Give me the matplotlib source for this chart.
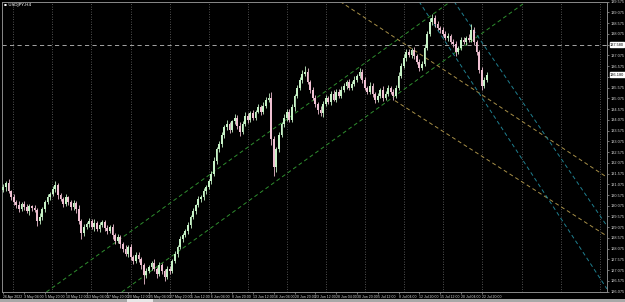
import matplotlib
matplotlib.use("Agg")
import matplotlib.pyplot as plt
from matplotlib.patches import Rectangle
import matplotlib.transforms as mtransforms
import numpy as np

# ---------------- data (USDJPY, H4 chart) ----------------
first_open = 130.80
closes = [
    130.94, 131.12, 130.75, 130.47, 130.24,
    130.10, 129.91, 130.15, 130.01, 129.82, 130.05, 129.96, 129.87,
    129.36, 129.54,
    129.91, 130.24, 130.47, 130.61, 130.84, 131.03,
    130.56, 130.38, 130.15, 130.47, 130.24, 130.01, 130.19, 129.91,
    129.36, 128.80, 129.08,
    129.22, 129.36, 129.08, 129.27, 128.99, 129.17, 129.31, 129.03, 128.89, 129.08,
    128.71, 128.43, 128.62, 128.29,
    128.06, 127.83, 128.15, 127.69, 127.50, 127.78, 127.60, 127.32,
    126.85, 127.04,
    127.22, 127.41, 127.13, 126.90, 127.32, 127.04, 126.76, 127.13,
    127.04, 127.50, 127.83, 128.15, 128.52, 128.71, 128.89,
    129.17, 129.54, 129.82, 130.10, 130.38, 130.47, 130.75, 130.94, 131.21, 131.54,
    132.14, 132.70, 132.93, 133.39, 133.72,
    133.86, 133.62, 134.00, 134.18, 133.81, 133.53, 133.90, 134.27, 134.09, 134.37,
    134.18, 134.46, 134.65, 134.46, 134.74,
    135.02, 135.11,
    133.16, 131.86,
    132.70, 133.39, 133.86,
    134.18, 134.46, 134.09, 134.65, 135.20,
    135.57, 135.94, 136.22, 136.32,
    135.85, 135.48, 135.11, 134.83, 134.55, 134.37,
    134.83, 135.11, 134.92, 135.29, 135.02, 135.39, 135.20, 135.48,
    135.67, 135.85, 135.57, 135.76, 135.94, 136.13, 136.32,
    135.94, 135.57, 135.39, 135.67, 135.29, 135.02, 135.20, 135.48, 135.11, 135.29,
    135.57, 135.39, 135.20,
    135.57, 136.13, 136.59, 136.96, 137.24,
    137.10, 137.34, 137.06, 136.78,
    136.50, 136.69,
    137.43, 138.08, 138.63, 138.82,
    138.54, 138.36, 138.26, 138.08, 137.89, 137.98, 137.71, 137.61,
    137.24, 137.43,
    137.80, 137.71, 137.89, 137.80, 138.26,
    137.71, 137.24,
    136.41, 135.67,
    135.94, 136.18,
]
up_wick = [
    0.15, 0.12, 0.20, 0.08, 0.14, 0.10, 0.18, 0.09, 0.13, 0.16,
    0.11, 0.07, 0.14, 0.12, 0.19, 0.10, 0.08, 0.15, 0.12, 0.17,
    0.22, 0.09, 0.13, 0.11, 0.16, 0.08, 0.12, 0.14, 0.10, 0.18,
    0.12, 0.15, 0.09, 0.13, 0.11, 0.17, 0.08, 0.14, 0.10, 0.12,
    0.16, 0.09, 0.13, 0.11, 0.15, 0.08, 0.12, 0.18, 0.10, 0.14,
    0.09, 0.13, 0.16, 0.11, 0.08, 0.15, 0.12, 0.10, 0.17, 0.09,
    0.14, 0.11, 0.08, 0.16, 0.12, 0.10, 0.13, 0.09, 0.15, 0.11,
    0.12, 0.14, 0.10, 0.17, 0.08, 0.13, 0.11, 0.15, 0.09, 0.12,
    0.16, 0.20, 0.12, 0.18, 0.14, 0.11, 0.22, 0.13, 0.09, 0.17,
    0.12, 0.15, 0.10, 0.19, 0.13, 0.11, 0.16, 0.09, 0.14, 0.12,
    0.18, 0.10, 0.23, 0.26, 0.15, 0.12, 0.14, 0.10, 0.17, 0.13,
    0.11, 0.16, 0.09, 0.14, 0.12, 0.18, 0.27, 0.15, 0.10, 0.13,
    0.12, 0.09, 0.16, 0.11, 0.14, 0.08, 0.13, 0.17, 0.10, 0.12,
    0.15, 0.11, 0.09, 0.14, 0.12, 0.16, 0.10, 0.19, 0.13, 0.11,
    0.08, 0.15, 0.12, 0.10, 0.14, 0.09, 0.17, 0.11, 0.13, 0.10,
    0.12, 0.14, 0.16, 0.11, 0.18, 0.13, 0.15, 0.10, 0.12, 0.09,
    0.14, 0.11, 0.17, 0.13, 0.20, 0.18, 0.12, 0.15, 0.10, 0.13,
    0.11, 0.16, 0.09, 0.12, 0.14, 0.10, 0.13, 0.15, 0.11, 0.19,
    0.28, 0.12, 0.10, 0.09, 0.11, 0.13, 0.10,
]
dn_wick = [
    0.10, 0.16, 0.09, 0.13, 0.11, 0.15, 0.12, 0.08, 0.14, 0.10,
    0.17, 0.12, 0.09, 0.22, 0.13, 0.11, 0.14, 0.08, 0.12, 0.10,
    0.13, 0.16, 0.10, 0.12, 0.09, 0.15, 0.11, 0.13, 0.18, 0.14,
    0.25, 0.12, 0.10, 0.14, 0.09, 0.16, 0.11, 0.13, 0.08, 0.15,
    0.12, 0.10, 0.17, 0.13, 0.11, 0.20, 0.14, 0.09, 0.16, 0.12,
    0.15, 0.10, 0.13, 0.18, 0.42, 0.12, 0.09, 0.14, 0.11, 0.19,
    0.10, 0.13, 0.21, 0.09, 0.15, 0.11, 0.08, 0.12, 0.10, 0.13,
    0.09, 0.11, 0.14, 0.10, 0.12, 0.08, 0.13, 0.11, 0.15, 0.10,
    0.12, 0.09, 0.14, 0.11, 0.10, 0.15, 0.12, 0.18, 0.10, 0.13,
    0.16, 0.20, 0.11, 0.09, 0.14, 0.12, 0.10, 0.13, 0.09, 0.15,
    0.11, 0.13, 0.10, 0.24, 0.41, 0.22, 0.14, 0.11, 0.13, 0.15,
    0.12, 0.10, 0.16, 0.09, 0.11, 0.14, 0.12, 0.10, 0.15, 0.13,
    0.17, 0.20, 0.11, 0.14, 0.10, 0.12, 0.15, 0.09, 0.13, 0.11,
    0.10, 0.12, 0.14, 0.09, 0.11, 0.13, 0.10, 0.12, 0.15, 0.11,
    0.13, 0.10, 0.16, 0.18, 0.12, 0.09, 0.14, 0.11, 0.10, 0.13,
    0.19, 0.11, 0.09, 0.12, 0.10, 0.14, 0.11, 0.13, 0.15, 0.12,
    0.16, 0.10, 0.09, 0.11, 0.08, 0.12, 0.14, 0.10, 0.13, 0.11,
    0.12, 0.15, 0.10, 0.13, 0.18, 0.11, 0.09, 0.12, 0.14, 0.10,
    0.11, 0.13, 0.15, 0.17, 0.19, 0.12, 0.10,
]

time_labels = ["26 Apr 2022", "3 May 04:00", "5 May 20:00", "10 May 12:00",
               "13 May 04:00", "17 May 20:00", "20 May 12:00", "25 May 04:00",
               "27 May 20:00", "1 Jun 12:00", "6 Jun 04:00", "8 Jun 20:00",
               "13 Jun 12:00", "16 Jun 04:00", "20 Jun 20:00", "23 Jun 12:00",
               "28 Jun 04:00", "30 Jun 20:00", "5 Jul 12:00", "8 Jul 04:00",
               "12 Jul 20:00", "15 Jul 12:00", "20 Jul 04:00", "22 Jul 20:00"]
bars_per_label = 8
grid_bars = [3.8, 18.9, 33.9, 49.0, 64.0, 79.0, 94.1, 109.1, 124.2, 139.2,
             154.2, 169.3, 184.3, 199.4, 214.4, 229.4]

price_ticks = [139.575, 139.075, 138.575, 138.075, 137.575, 137.075, 136.575,
               136.075, 135.575, 135.075, 134.575, 134.075, 133.575, 133.075,
               132.575, 132.075, 131.575, 131.075, 130.575, 130.075, 129.575,
               129.075, 128.575, 128.075, 127.575, 127.075, 126.575, 126.075]
hline_price = 137.58

# trend lines: (bar, price) anchor pairs
green_1 = [(21.4, 126.48), (46.0, 128.62)]
green_2 = [(48.8, 126.34), (183.3, 138.03)]
yellow_1 = [(144.9, 138.36), (232.2, 131.40)]
yellow_2 = [(150.6, 134.97), (232.2, 128.66)]   # ray from first point
teal_1 = [(173.0, 139.65), (232.2, 129.13)]
teal_2 = [(160.3, 139.51), (232.2, 126.20)]

# ---------------- drawing ----------------
W, H = 625, 302
FONT = "Liberation Sans"
fig = plt.figure(figsize=(W / 100, H / 100), dpi=100, facecolor="black")
ax = fig.add_axes([2 / W, 10 / H, 605 / W, 290.5 / H])
ax.set_facecolor("black")

n = len(closes)
x = np.arange(n)
c = np.array(closes)
o = np.concatenate([[first_open], c[:-1]])
hi = np.maximum(o, c) + np.array(up_wick)
lo = np.minimum(o, c) - np.array(dn_wick)

bull_col = "#c6f2c6"
bear_col = "#efc0d2"
cols = [bull_col if cc >= oo else bear_col for oo, cc in zip(o, c)]

ax.vlines(x, lo, hi, colors=cols, linewidth=0.6, zorder=3)
body_h = np.maximum(np.abs(c - o), 0.012)
ax.bar(x, body_h, bottom=np.minimum(o, c), width=0.62, color=cols,
       linewidth=0, zorder=4)

ax.set_xlim(-0.5, 232.19)
ax.set_ylim(126.06, 139.584)

# grid
for gb in grid_bars:
    ax.axvline(gb, color="#6a6a6a", linestyle=(0, (1, 2)), linewidth=0.6, zorder=1)

# horizontal dashed level
ax.axhline(hline_price, color="#bdbdbd", linestyle=(0, (5, 4)), linewidth=0.6, zorder=2)

# trend lines
dash = (0, (4, 3))
ax.axline(green_1[0], green_1[1], color="#2f8f2f", linestyle=dash, linewidth=0.7, zorder=2)
ax.axline(green_2[0], green_2[1], color="#2f8f2f", linestyle=dash, linewidth=0.7, zorder=2)
ax.axline(yellow_1[0], yellow_1[1], color="#a89048", linestyle=dash, linewidth=0.7, zorder=2)
ax.plot([yellow_2[0][0], yellow_2[1][0]], [yellow_2[0][1], yellow_2[1][1]],
        color="#a89048", linestyle=dash, linewidth=0.7, zorder=2)
ax.axline(teal_1[0], teal_1[1], color="#1f7f8f", linestyle=dash, linewidth=0.7, zorder=2)
ax.axline(teal_2[0], teal_2[1], color="#1f7f8f", linestyle=dash, linewidth=0.7, zorder=2)

# axes styling
for s in ax.spines.values():
    s.set_color("#8a8a8a")
    s.set_linewidth(0.7)

ax.yaxis.tick_right()
ax.set_yticks(price_ticks)
ylabels = []
for p in price_ticks:
    if abs(p - hline_price) < 0.15 or abs(p - closes[-1]) < 0.15:
        ylabels.append("")
    else:
        ylabels.append(f"{p:.3f}")
ax.set_yticklabels(ylabels, fontfamily=FONT)
ax.tick_params(axis="y", direction="out", length=1.5, width=0.5, color="#a0a0a0",
               labelsize=2.8, labelcolor="#d8d8d8", pad=0.8)

ax.set_xticks([k * bars_per_label for k in range(len(time_labels))])
ax.set_xticklabels(time_labels, fontfamily=FONT)
for lbl in ax.get_xticklabels():
    lbl.set_ha("left")
ax.tick_params(axis="x", direction="out", length=1.5, width=0.5, color="#a0a0a0",
               labelsize=2.5, labelcolor="#d8d8d8", pad=0.6)

# price boxes on the axis
trans = mtransforms.blended_transform_factory(ax.transAxes, ax.transData)
for p in (hline_price, closes[-1]):
    ax.text(1.005, p, f"{p:.3f}", transform=trans, fontsize=2.8, color="black",
            fontfamily=FONT, va="center", ha="left", clip_on=False, zorder=10,
            bbox=dict(boxstyle="square,pad=0.1", facecolor="white", edgecolor="white"))

# title
fig.text(4 / W, 1 - 5 / H, "\u25aa USDJPY,H4", fontsize=3.2, color="white",
         fontfamily=["DejaVu Sans"], va="center", ha="left")

# bottom status strip
fig.patches.append(Rectangle((0, 0), 1, 3 / H, transform=fig.transFigure,
                             facecolor="#a8a8a8", edgecolor="none"))
fig.patches.append(Rectangle((127 / W, 0), 26 / W, 3 / H, transform=fig.transFigure,
                             facecolor="#e8e8e8", edgecolor="none"))

fig.savefig("out.png", dpi=100, facecolor="black")
